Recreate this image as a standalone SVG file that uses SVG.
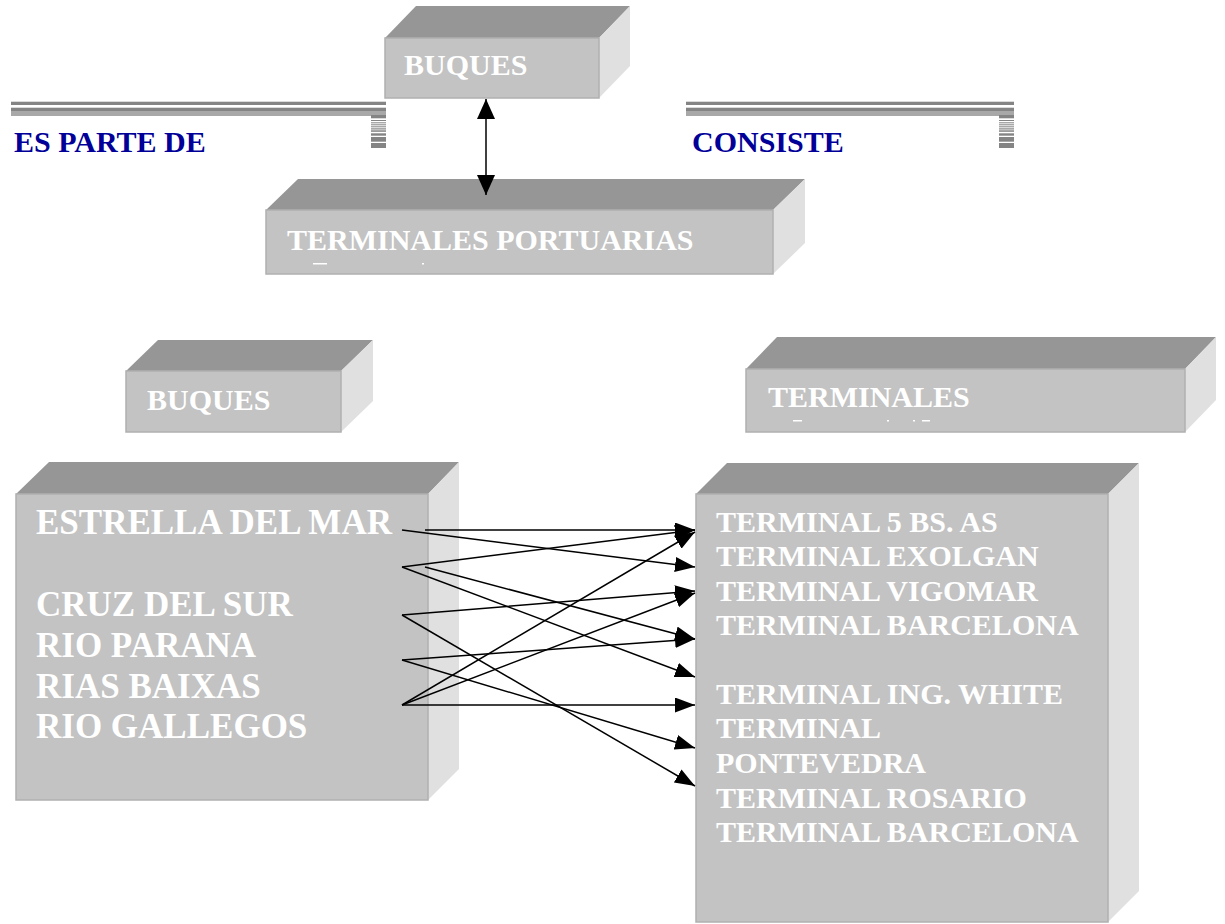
<svg xmlns="http://www.w3.org/2000/svg" xmlns:xlink="http://www.w3.org/1999/xlink" width="1225" height="924" viewBox="0 0 1225 924">
<style>
.top{fill:#969696;}
.side{fill:#e0e0e0;}
.front{fill:#c3c3c3;stroke:#b0b0b0;stroke-width:1.5;}
.lbl{font-family:"Liberation Serif","Times New Roman",serif;font-weight:bold;fill:#ffffff;}
.ban{font-family:"Liberation Serif","Times New Roman",serif;font-weight:bold;fill:#000099;font-size:30px;}
.stripe{fill:#848484;}
.frag{fill:#ffffff;}
.conn{stroke:#000000;stroke-width:1.5;fill:none;}
</style>
<defs>
<marker id="ah" viewBox="0 0 20 15" refX="20" refY="7.5" markerWidth="20" markerHeight="15" markerUnits="userSpaceOnUse" orient="auto">
<path d="M0,0 L20,7.5 L0,15 Z" fill="#000"/>
</marker>
<marker id="ah2" viewBox="0 0 20 18" refX="20" refY="9" markerWidth="20" markerHeight="18" markerUnits="userSpaceOnUse" orient="auto-start-reverse">
<path d="M0,0 L20,9 L0,18 Z" fill="#000"/>
</marker>
<g id="drop">
<rect class="stripe" x="0" y="115" width="15" height="3.3"/>
<rect class="stripe" x="0" y="120" width="15" height="1"/>
<rect class="stripe" x="0" y="122.3" width="15" height="1"/>
<rect class="stripe" x="0" y="124.3" width="15" height="1"/>
<rect class="stripe" x="0" y="126.3" width="15" height="1"/>
<rect class="stripe" x="0" y="128.3" width="15" height="1.2"/>
<rect class="stripe" x="0" y="130.3" width="15" height="1.5"/>
<rect class="stripe" x="0" y="133.3" width="15" height="2.4"/>
<rect class="stripe" x="0" y="137" width="15" height="4.7"/>
<rect class="stripe" x="0" y="143" width="15" height="5"/>
</g>
</defs>
<rect width="1225" height="924" fill="#ffffff"/>

<g id="banner-es-parte-de">
<rect class="stripe" x="11" y="101.7" width="375" height="3.3"/>
<rect class="stripe" x="11" y="107.7" width="375" height="4"/>
<rect class="stripe" x="11" y="112.3" width="375" height="1.4"/>
<rect class="stripe" x="11" y="114.3" width="375" height="1.4"/>
<use xlink:href="#drop" x="371"/>
<text class="ban" x="14" y="152">ES PARTE DE</text>
</g>

<g id="banner-consiste">
<rect class="stripe" x="686" y="101.7" width="328" height="3.3"/>
<rect class="stripe" x="686" y="107.7" width="328" height="4"/>
<rect class="stripe" x="686" y="112.3" width="328" height="1.4"/>
<rect class="stripe" x="686" y="114.3" width="328" height="1.4"/>
<use xlink:href="#drop" x="999"/>
<text class="ban" x="692" y="152">CONSISTE</text>
</g>

<g id="box-buques-top">
<polygon class="top" points="385,38 416,6 630,6 599,38"/>
<polygon class="side" points="599,38 630,6 630,66 599,98"/>
<rect class="front" x="385" y="38" width="214" height="60"/>
<text class="lbl" x="404" y="75" font-size="30">BUQUES</text>
</g>

<g id="box-terminales-portuarias">
<polygon class="top" points="266,210 298,179 805,179 773,210"/>
<polygon class="side" points="773,210 805,179 805,243 773,274"/>
<rect class="front" x="266" y="210" width="507" height="64"/>
<text class="lbl" x="287" y="250" font-size="30">TERMINALES PORTUARIAS</text>
<rect class="frag" x="313" y="263" width="14" height="1.5"/>
<rect class="frag" x="422" y="263" width="2" height="1.5"/>
</g>

<g id="box-buques">
<polygon class="top" points="126,371 158,340 373,340 341,371"/>
<polygon class="side" points="341,371 373,340 373,401 341,432"/>
<rect class="front" x="126" y="371" width="215" height="61"/>
<text class="lbl" x="147" y="410" font-size="30">BUQUES</text>
</g>

<g id="box-terminales">
<polygon class="top" points="746,369 777,337 1216,337 1185,369"/>
<polygon class="side" points="1185,369 1216,337 1216,400 1185,432"/>
<rect class="front" x="746" y="369" width="439" height="63"/>
<text class="lbl" x="768" y="407" font-size="30">TERMINALES</text>
<rect class="frag" x="793" y="420" width="9" height="1.5"/>
<rect class="frag" x="887" y="420" width="2" height="1.5"/>
<rect class="frag" x="913" y="420" width="2" height="1.5"/>
<rect class="frag" x="922" y="420" width="8" height="1.5"/>
</g>

<g id="box-lista-buques">
<polygon class="top" points="16,494 49,462 459,462 428,494"/>
<polygon class="side" points="428,494 459,462 459,769 428,800"/>
<rect class="front" x="16" y="494" width="412" height="306"/>
<text class="lbl" font-size="35">
<tspan x="36" y="534">ESTRELLA DEL MAR</tspan>
<tspan x="36" y="616">CRUZ DEL SUR</tspan>
<tspan x="36" y="657">RIO PARANA</tspan>
<tspan x="36" y="698">RIAS BAIXAS</tspan>
<tspan x="36" y="738">RIO GALLEGOS</tspan>
</text>
</g>

<g id="box-lista-terminales">
<polygon class="top" points="696,494 727,463 1139,463 1108,494"/>
<polygon class="side" points="1108,494 1139,463 1139,891 1108,922"/>
<rect class="front" x="696" y="494" width="412" height="428"/>
<text class="lbl" font-size="30">
<tspan x="716" y="532">TERMINAL 5 BS. AS</tspan>
<tspan x="716" y="566">TERMINAL EXOLGAN</tspan>
<tspan x="716" y="601">TERMINAL VIGOMAR</tspan>
<tspan x="716" y="635">TERMINAL BARCELONA</tspan>
<tspan x="716" y="704">TERMINAL ING. WHITE</tspan>
<tspan x="716" y="738">TERMINAL</tspan>
<tspan x="716" y="773">PONTEVEDRA</tspan>
<tspan x="716" y="808">TERMINAL ROSARIO</tspan>
<tspan x="716" y="842">TERMINAL BARCELONA</tspan>
</text>
</g>

<g id="connectors">
<line class="conn" x1="486" y1="99" x2="486" y2="195" marker-start="url(#ah2)" marker-end="url(#ah2)"/>
<line class="conn" x1="425" y1="530" x2="695" y2="530" marker-end="url(#ah)"/>
<line class="conn" x1="402" y1="530" x2="695" y2="567" marker-end="url(#ah)"/>
<line class="conn" x1="402" y1="567" x2="695" y2="530" marker-end="url(#ah)"/>
<line class="conn" x1="402" y1="567" x2="695" y2="677" marker-end="url(#ah)"/>
<line class="conn" x1="425" y1="567" x2="695" y2="639" marker-end="url(#ah)"/>
<line class="conn" x1="402" y1="615" x2="695" y2="591" marker-end="url(#ah)"/>
<line class="conn" x1="402" y1="615" x2="695" y2="786" marker-end="url(#ah)"/>
<line class="conn" x1="402" y1="660" x2="695" y2="639" marker-end="url(#ah)"/>
<line class="conn" x1="402" y1="660" x2="695" y2="748" marker-end="url(#ah)"/>
<line class="conn" x1="402" y1="705" x2="695" y2="532" marker-end="url(#ah)"/>
<line class="conn" x1="402" y1="705" x2="695" y2="593" marker-end="url(#ah)"/>
<line class="conn" x1="402" y1="705" x2="695" y2="705" marker-end="url(#ah)"/>
</g>
</svg>
